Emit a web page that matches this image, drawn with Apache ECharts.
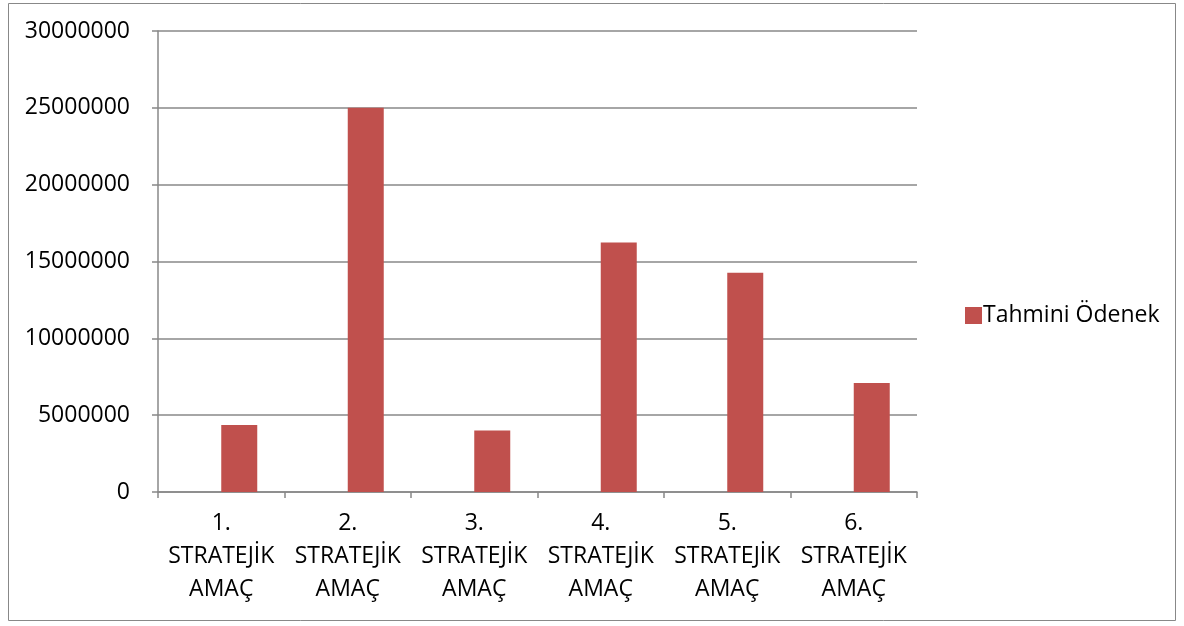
<!DOCTYPE html>
<html><head><meta charset="utf-8">
<script src="https://cdn.jsdelivr.net/npm/echarts@6/dist/echarts.min.js"></script>
<style>html,body{margin:0;padding:0;background:#fff;}#c{width:1184px;height:626px;}</style>
</head><body><div id="c"></div>
<script>
const categories = ["1.\nSTRATEJİK\nAMAÇ","2.\nSTRATEJİK\nAMAÇ","3.\nSTRATEJİK\nAMAÇ","4.\nSTRATEJİK\nAMAÇ","5.\nSTRATEJİK\nAMAÇ","6.\nSTRATEJİK\nAMAÇ"];
const seriesName = "Tahmini Ödenek";
const values = [4360000, 25000000, 4000000, 16230000, 14260000, 7090000];
const emptySlot = [];  // an empty series slot that shifts the visible bar right of the category centre, as in the source chart
const yMin = 0, yMax = 30000000, yStep = 5000000;

const font = "'Open Sans', 'Noto Sans', sans-serif";
const chart = echarts.init(document.getElementById('c'), null, {renderer:'canvas'});
chart.setOption({
  animation:false,
  backgroundColor:'#fff',
  graphic:[{type:'rect', shape:{x:8.5,y:3.5,width:1167,height:617}, style:{fill:'none',stroke:'#888',lineWidth:1}}],
  legend:{
    left:960, top:299, itemWidth:17, itemHeight:17, itemGap:6, icon:'rect',
    data:[seriesName],
    textStyle:{fontFamily:font, fontSize:23, color:'#000', padding:[0,0,0,-4]}
  },
  grid:{left:158, right:267, top:31, bottom:134, containLabel:false},
  xAxis:{
    type:'category', data:categories,
    axisLine:{lineStyle:{color:'#888', width:1.5}},
    axisTick:{show:true, length:6, alignWithLabel:false, lineStyle:{color:'#888', width:1.5}},
    axisLabel:{fontFamily:font, fontSize:23, color:'#000', lineHeight:33, margin:15, interval:0}
  },
  yAxis:{
    type:'value', min:yMin, max:yMax, interval:yStep,
    axisLine:{show:true, lineStyle:{color:'#888', width:1.5}},
    axisTick:{show:true, length:6, lineStyle:{color:'#888', width:1.5}},
    splitLine:{show:true, lineStyle:{color:'#888', width:1.5}},
    axisLabel:{fontFamily:font, fontSize:23, color:'#000', margin:28, formatter:v=>String(v)}
  },
  series:[
    {name:'_empty', type:'bar', data:emptySlot, barWidth:36, barGap:'0%'},
    {name:seriesName, type:'bar', data:values, barWidth:36, barGap:'0%',
     itemStyle:{color:'#C0504D'}}
  ]
});
</script></body></html>
